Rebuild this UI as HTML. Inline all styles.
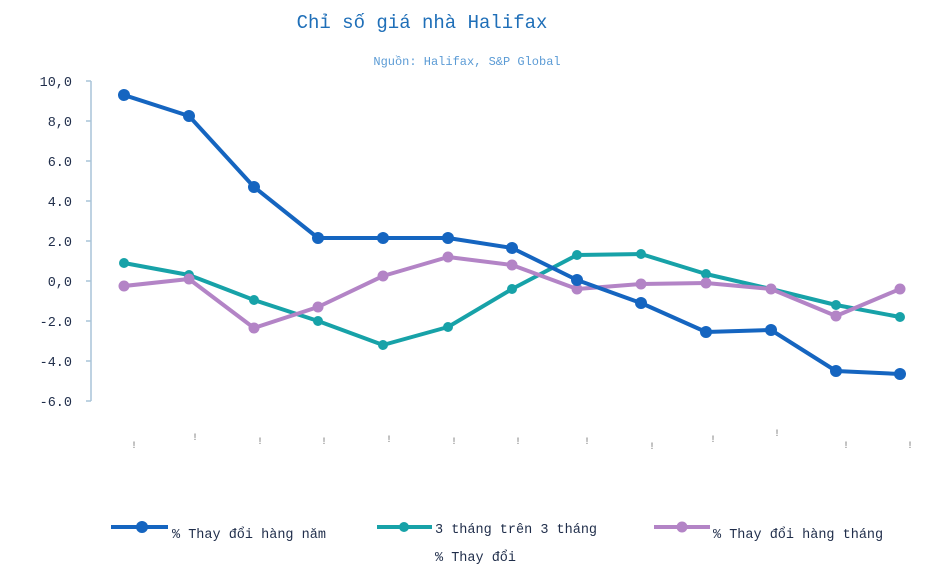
<!DOCTYPE html>
<html><head><meta charset="utf-8"><style>
body{margin:0;background:#fff;width:947px;height:577px;overflow:hidden}
svg text{font-family:"Liberation Mono","DejaVu Sans Mono",monospace}
</style></head><body>
<svg width="947" height="577" viewBox="0 0 947 577">
<text x="422" y="28" text-anchor="middle" font-size="19" fill="#1f6fb8">Chỉ số giá nhà Halifax</text>
<text x="467" y="65" text-anchor="middle" font-size="12" fill="#5b9bd5">Nguồn: Halifax, S&amp;P Global</text>
<g stroke="#a9c4d8" stroke-width="1.5">
<line x1="91" y1="81" x2="91" y2="401"/>
<line x1="86" y1="81" x2="91" y2="81"/><line x1="86" y1="121" x2="91" y2="121"/><line x1="86" y1="161" x2="91" y2="161"/><line x1="86" y1="201" x2="91" y2="201"/><line x1="86" y1="241" x2="91" y2="241"/><line x1="86" y1="281" x2="91" y2="281"/><line x1="86" y1="321" x2="91" y2="321"/><line x1="86" y1="361" x2="91" y2="361"/><line x1="86" y1="401" x2="91" y2="401"/>
</g>
<g font-size="13.5" fill="#1f2d4a" text-anchor="end">
<text x="72" y="86">10,0</text><text x="72" y="126">8,0</text><text x="72" y="166">6.0</text><text x="72" y="206">4.0</text><text x="72" y="246">2.0</text><text x="72" y="286">0,0</text><text x="72" y="326">-2.0</text><text x="72" y="366">-4.0</text><text x="72" y="406">-6.0</text>
</g>
<g font-size="10" fill="#777" text-anchor="middle">
<text x="134" y="448">!</text><text x="195" y="440">!</text><text x="260" y="444">!</text><text x="324" y="444">!</text><text x="389" y="442">!</text><text x="454" y="444">!</text><text x="518" y="444">!</text><text x="587" y="444">!</text><text x="652" y="449">!</text><text x="713" y="442">!</text><text x="777" y="436">!</text><text x="846" y="448">!</text><text x="910" y="448">!</text>
</g>
<g fill="none" stroke-width="4" stroke-linejoin="round">
<polyline stroke="#17a2a8" points="124,263 189,275 254,300 318,321 383,345 448,327 512,289 577,255 641,254 706,274 771,289 836,305 900,317"/>
<polyline stroke="#b384c6" points="124,286 189,279 254,328 318,307 383,276 448,257 512,265 577,289 641,284 706,283 771,289 836,316 900,289"/>
<polyline stroke="#1565c0" points="124,95 189,116 254,187 318,238 383,238 448,238 512,248 577,280 641,303 706,332 771,330 836,371 900,374"/>
</g>
<g fill="#17a2a8"><circle cx="124" cy="263" r="5"/><circle cx="189" cy="275" r="5"/><circle cx="254" cy="300" r="5"/><circle cx="318" cy="321" r="5"/><circle cx="383" cy="345" r="5"/><circle cx="448" cy="327" r="5"/><circle cx="512" cy="289" r="5"/><circle cx="577" cy="255" r="5"/><circle cx="641" cy="254" r="5"/><circle cx="706" cy="274" r="5"/><circle cx="771" cy="289" r="5"/><circle cx="836" cy="305" r="5"/><circle cx="900" cy="317" r="5"/></g>
<g fill="#b384c6"><circle cx="124" cy="286" r="5.5"/><circle cx="189" cy="279" r="5.5"/><circle cx="254" cy="328" r="5.5"/><circle cx="318" cy="307" r="5.5"/><circle cx="383" cy="276" r="5.5"/><circle cx="448" cy="257" r="5.5"/><circle cx="512" cy="265" r="5.5"/><circle cx="577" cy="289" r="5.5"/><circle cx="641" cy="284" r="5.5"/><circle cx="706" cy="283" r="5.5"/><circle cx="771" cy="289" r="5.5"/><circle cx="836" cy="316" r="5.5"/><circle cx="900" cy="289" r="5.5"/></g>
<g fill="#1565c0"><circle cx="124" cy="95" r="6"/><circle cx="189" cy="116" r="6"/><circle cx="254" cy="187" r="6"/><circle cx="318" cy="238" r="6"/><circle cx="383" cy="238" r="6"/><circle cx="448" cy="238" r="6"/><circle cx="512" cy="248" r="6"/><circle cx="577" cy="280" r="6"/><circle cx="641" cy="303" r="6"/><circle cx="706" cy="332" r="6"/><circle cx="771" cy="330" r="6"/><circle cx="836" cy="371" r="6"/><circle cx="900" cy="374" r="6"/></g>
<g stroke-width="4">
<line x1="111" y1="527" x2="168" y2="527" stroke="#1565c0"/><circle cx="142" cy="527" r="6" fill="#1565c0"/>
<line x1="377" y1="527" x2="432" y2="527" stroke="#17a2a8"/><circle cx="404" cy="527" r="5" fill="#17a2a8"/>
<line x1="654" y1="527" x2="710" y2="527" stroke="#b384c6"/><circle cx="682" cy="527" r="5.5" fill="#b384c6"/>
</g>
<g font-size="13.5" fill="#1f2d4a">
<text x="172" y="538">% Thay đổi hàng năm</text>
<text x="435" y="533">3 tháng trên 3 tháng</text>
<text x="713" y="538">% Thay đổi hàng tháng</text>
<text x="435" y="561">% Thay đổi</text>
</g>
</svg>
</body></html>
